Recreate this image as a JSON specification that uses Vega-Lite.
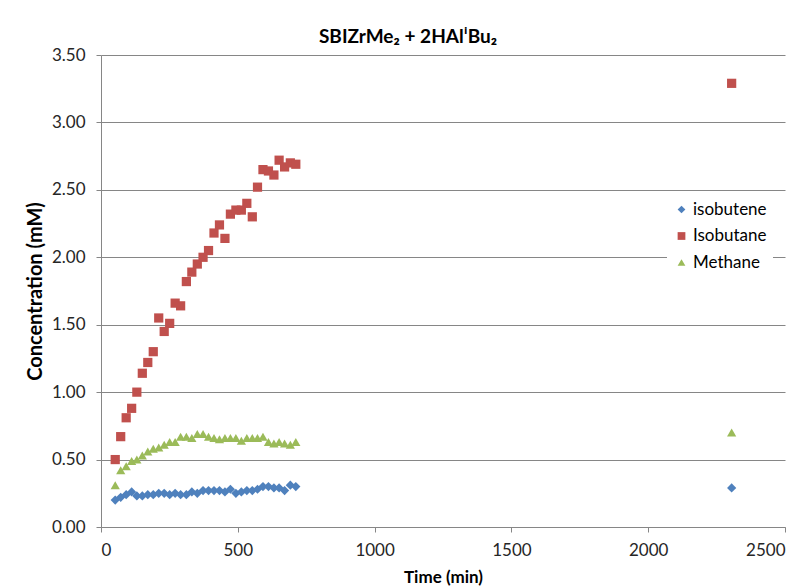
{
  "$schema": "https://vega.github.io/schema/vega-lite/v6.json",
  "autosize": {"type": "none"},
  "width": 684,
  "height": 472,
  "padding": {"left": 101, "top": 55, "right": 20, "bottom": 61},
  "background": "white",
  "title": {
    "text": "SBIZrMe₂ + 2HAlⁱBu₂",
    "anchor": "middle",
    "dx": -35,
    "offset": -1,
    "font": "Lato",
    "fontSize": 19,
    "fontWeight": "bold",
    "color": "#000000"
  },
  "datasets": {
    "gas": [
      {"t": 52, "series": "isobutene", "c": 0.20},
      {"t": 72, "series": "isobutene", "c": 0.22},
      {"t": 92, "series": "isobutene", "c": 0.24},
      {"t": 112, "series": "isobutene", "c": 0.26},
      {"t": 131, "series": "isobutene", "c": 0.23},
      {"t": 151, "series": "isobutene", "c": 0.23},
      {"t": 171, "series": "isobutene", "c": 0.24},
      {"t": 191, "series": "isobutene", "c": 0.24},
      {"t": 211, "series": "isobutene", "c": 0.25},
      {"t": 231, "series": "isobutene", "c": 0.25},
      {"t": 251, "series": "isobutene", "c": 0.24},
      {"t": 271, "series": "isobutene", "c": 0.25},
      {"t": 291, "series": "isobutene", "c": 0.24},
      {"t": 312, "series": "isobutene", "c": 0.24},
      {"t": 332, "series": "isobutene", "c": 0.26},
      {"t": 352, "series": "isobutene", "c": 0.25},
      {"t": 373, "series": "isobutene", "c": 0.27},
      {"t": 393, "series": "isobutene", "c": 0.27},
      {"t": 413, "series": "isobutene", "c": 0.27},
      {"t": 433, "series": "isobutene", "c": 0.27},
      {"t": 453, "series": "isobutene", "c": 0.26},
      {"t": 473, "series": "isobutene", "c": 0.28},
      {"t": 493, "series": "isobutene", "c": 0.25},
      {"t": 513, "series": "isobutene", "c": 0.26},
      {"t": 533, "series": "isobutene", "c": 0.27},
      {"t": 553, "series": "isobutene", "c": 0.27},
      {"t": 572, "series": "isobutene", "c": 0.28},
      {"t": 592, "series": "isobutene", "c": 0.30},
      {"t": 612, "series": "isobutene", "c": 0.30},
      {"t": 632, "series": "isobutene", "c": 0.29},
      {"t": 651, "series": "isobutene", "c": 0.29},
      {"t": 671, "series": "isobutene", "c": 0.27},
      {"t": 692, "series": "isobutene", "c": 0.31},
      {"t": 712, "series": "isobutene", "c": 0.30},
      {"t": 2305, "series": "isobutene", "c": 0.29},
      {"t": 52, "series": "Isobutane", "c": 0.50},
      {"t": 72, "series": "Isobutane", "c": 0.67},
      {"t": 92, "series": "Isobutane", "c": 0.81},
      {"t": 112, "series": "Isobutane", "c": 0.88},
      {"t": 131, "series": "Isobutane", "c": 1.00},
      {"t": 151, "series": "Isobutane", "c": 1.14},
      {"t": 171, "series": "Isobutane", "c": 1.22},
      {"t": 191, "series": "Isobutane", "c": 1.30},
      {"t": 211, "series": "Isobutane", "c": 1.55},
      {"t": 231, "series": "Isobutane", "c": 1.45},
      {"t": 251, "series": "Isobutane", "c": 1.51},
      {"t": 271, "series": "Isobutane", "c": 1.66},
      {"t": 291, "series": "Isobutane", "c": 1.64},
      {"t": 312, "series": "Isobutane", "c": 1.82},
      {"t": 332, "series": "Isobutane", "c": 1.89},
      {"t": 352, "series": "Isobutane", "c": 1.95},
      {"t": 373, "series": "Isobutane", "c": 2.00},
      {"t": 393, "series": "Isobutane", "c": 2.05},
      {"t": 413, "series": "Isobutane", "c": 2.18},
      {"t": 433, "series": "Isobutane", "c": 2.24},
      {"t": 453, "series": "Isobutane", "c": 2.14},
      {"t": 473, "series": "Isobutane", "c": 2.32},
      {"t": 493, "series": "Isobutane", "c": 2.35},
      {"t": 513, "series": "Isobutane", "c": 2.35},
      {"t": 533, "series": "Isobutane", "c": 2.40},
      {"t": 553, "series": "Isobutane", "c": 2.30},
      {"t": 572, "series": "Isobutane", "c": 2.52},
      {"t": 592, "series": "Isobutane", "c": 2.65},
      {"t": 612, "series": "Isobutane", "c": 2.64},
      {"t": 632, "series": "Isobutane", "c": 2.61},
      {"t": 651, "series": "Isobutane", "c": 2.72},
      {"t": 671, "series": "Isobutane", "c": 2.67},
      {"t": 692, "series": "Isobutane", "c": 2.70},
      {"t": 712, "series": "Isobutane", "c": 2.69},
      {"t": 2305, "series": "Isobutane", "c": 3.29},
      {"t": 52, "series": "Methane", "c": 0.31},
      {"t": 72, "series": "Methane", "c": 0.42},
      {"t": 92, "series": "Methane", "c": 0.45},
      {"t": 112, "series": "Methane", "c": 0.49},
      {"t": 131, "series": "Methane", "c": 0.50},
      {"t": 151, "series": "Methane", "c": 0.53},
      {"t": 171, "series": "Methane", "c": 0.56},
      {"t": 191, "series": "Methane", "c": 0.58},
      {"t": 211, "series": "Methane", "c": 0.59},
      {"t": 231, "series": "Methane", "c": 0.61},
      {"t": 251, "series": "Methane", "c": 0.63},
      {"t": 271, "series": "Methane", "c": 0.63},
      {"t": 291, "series": "Methane", "c": 0.67},
      {"t": 312, "series": "Methane", "c": 0.67},
      {"t": 332, "series": "Methane", "c": 0.66},
      {"t": 352, "series": "Methane", "c": 0.69},
      {"t": 373, "series": "Methane", "c": 0.69},
      {"t": 393, "series": "Methane", "c": 0.67},
      {"t": 413, "series": "Methane", "c": 0.66},
      {"t": 433, "series": "Methane", "c": 0.65},
      {"t": 453, "series": "Methane", "c": 0.66},
      {"t": 473, "series": "Methane", "c": 0.66},
      {"t": 493, "series": "Methane", "c": 0.66},
      {"t": 513, "series": "Methane", "c": 0.64},
      {"t": 533, "series": "Methane", "c": 0.66},
      {"t": 553, "series": "Methane", "c": 0.66},
      {"t": 572, "series": "Methane", "c": 0.66},
      {"t": 592, "series": "Methane", "c": 0.67},
      {"t": 612, "series": "Methane", "c": 0.63},
      {"t": 632, "series": "Methane", "c": 0.62},
      {"t": 651, "series": "Methane", "c": 0.63},
      {"t": 671, "series": "Methane", "c": 0.62},
      {"t": 692, "series": "Methane", "c": 0.61},
      {"t": 712, "series": "Methane", "c": 0.63},
      {"t": 2305, "series": "Methane", "c": 0.70}
    ]
  },
  "data": {"name": "gas"},
  "mark": {"type": "point", "filled": true, "opacity": 1, "size": 85},
  "encoding": {
    "x": {
      "field": "t",
      "type": "quantitative",
      "title": "Time (min)",
      "scale": {"domain": [0, 2500], "nice": false, "zero": false},
      "axis": {
        "values": [0, 500, 1000, 1500, 2000, 2500],
        "format": "d",
        "grid": false,
        "tickSize": 5,
        "labelPadding": 10,
        "titlePadding": 11,
        "titleFontSize": 17
      }
    },
    "y": {
      "field": "c",
      "type": "quantitative",
      "title": "Concentration (mM)",
      "scale": {"domain": [0, 3.5], "nice": false},
      "axis": {
        "values": [0, 0.5, 1, 1.5, 2, 2.5, 3, 3.5],
        "format": ".2f",
        "grid": true,
        "tickSize": 5,
        "labelPadding": 11,
        "titlePadding": 6,
        "titleFontSize": 20
      }
    },
    "color": {
      "field": "series",
      "type": "nominal",
      "title": null,
      "scale": {
        "domain": ["isobutene", "Isobutane", "Methane"],
        "range": ["#4F81BD", "#C0504D", "#9BBB59"]
      }
    },
    "shape": {
      "field": "series",
      "type": "nominal",
      "title": null,
      "scale": {
        "domain": ["isobutene", "Isobutane", "Methane"],
        "range": ["diamond", "square", "triangle-up"]
      }
    }
  },
  "config": {
    "font": "Lato",
    "view": {"stroke": null},
    "axis": {
      "domainColor": "#868686",
      "tickColor": "#868686",
      "gridColor": "#868686",
      "gridWidth": 1,
      "domainWidth": 1,
      "labelFont": "Lato",
      "labelFontSize": 17,
      "labelColor": "#262626",
      "titleFont": "Lato",
      "titleFontWeight": "bold",
      "titleColor": "#000000"
    },
    "legend": {
      "orient": "none",
      "legendX": 566,
      "legendY": 140,
      "padding": 6,
      "fillColor": "white",
      "labelFont": "Lato",
      "labelFontSize": 17,
      "labelColor": "#000000",
      "rowPadding": 8.5,
      "symbolSize": 60,
      "symbolOpacity": 1,
      "labelOffset": 3
    }
  }
}
